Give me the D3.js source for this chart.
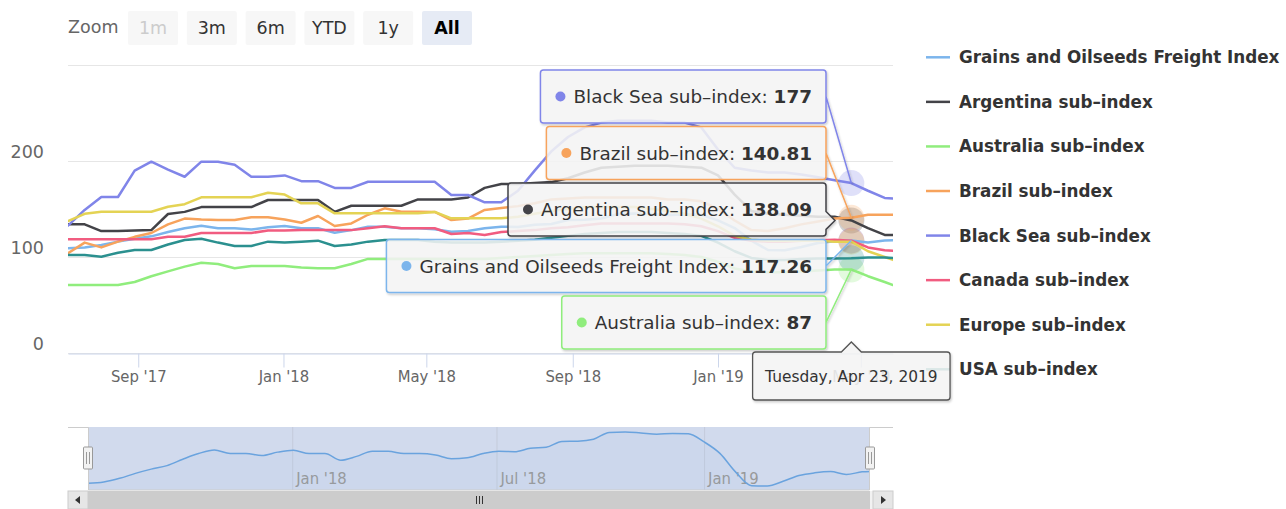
<!DOCTYPE html>
<html>
<head>
<meta charset="utf-8">
<script src="https://cdn.jsdelivr.net/npm/d3@7"></script>
<style>
  body { margin: 0; background: #fff; }
  svg { display: block; font-family: "DejaVu Sans", sans-serif; }
  .cond { font-family: "DejaVu Sans Condensed", "Liberation Sans Narrow", "DejaVu Sans", sans-serif; font-stretch: condensed; }
</style>
</head>
<body>
<svg id="chart" width="1286" height="509"></svg>
<script>
// biweekly observation dates (Tuesdays), last one is the final weekly point
var dates = ["2017-07-04","2017-07-18","2017-08-01","2017-08-15","2017-08-29","2017-09-12","2017-09-26","2017-10-10",
  "2017-10-24","2017-11-07","2017-11-21","2017-12-05","2017-12-19","2018-01-02","2018-01-16","2018-01-30",
  "2018-02-13","2018-02-27","2018-03-13","2018-03-27","2018-04-10","2018-04-24","2018-05-08","2018-05-22",
  "2018-06-05","2018-06-19","2018-07-03","2018-07-17","2018-07-31","2018-08-14","2018-08-28","2018-09-11",
  "2018-09-25","2018-10-09","2018-10-23","2018-11-06","2018-11-20","2018-12-04","2018-12-18","2019-01-01",
  "2019-01-15","2019-01-29","2019-02-12","2019-02-26","2019-03-12","2019-03-26","2019-04-09","2019-04-23",
  "2019-05-07","2019-05-21","2019-05-28"];

var grains = [109,110,112.5,116,119,121.5,126,130,132.5,130,130,128.6,131,132.3,130,130,125.3,128,131.6,131.6,
  130,130,129,126.4,127,130,131.6,131.3,133.7,134.4,138.5,138.7,140.1,144.9,145.2,144.5,143.7,144.2,144,138.2,
  130.1,116.9,107.3,107.1,110.4,114.5,116.4,117.26,115.2,117.1,117.4];
var argentina = [134,134,127,127,127.5,128,144.8,147,152,152,152,152,159.4,159.4,159.4,159.4,147,153.4,153.4,153.4,
  153.4,160,160,160,162,172,176,176,177,178,182,188,193,194,195,195,195,194,193,185,
  165,148,145,144,143,142,142,138.09,130,123,123];
var australia = [70.8,70.8,70.8,70.8,74,80,85,90,94,92.7,88.2,90.6,90.6,90.6,89,88.2,88.2,92.7,98,98,
  98,98,98,98,98,98,99,100,101,102,103,104,104,104,104,104,103,102,100,95,
  88,85,84,84,85,86,87,87,80,74,70.8];
var brazil = [104,115,110,116,121,125,134,140,139,138.5,138.5,141.4,141.4,139,135.7,142.7,132.3,135,144,150.7,
  147.2,147.2,147,138.5,140,149,151,153,156,160,161,162,162,162,162,162,160,160,158,150,
  138,128,127,130,134,137,140,140.81,144,144,144];
var blackSea = [132.6,149,162.5,162.5,190,199.3,191,183.6,199.3,199.3,196,183.6,183.6,185,179,179,172,172,178.4,178.4,
  178.4,178.4,178.4,164.6,164.6,157,157,169,190,210,225,235,240,242,242,242,240,240,235,212,
  193,190,188,188,186,183,180,177,169,161.5,161];
var canada = [118.4,118.4,118.4,118.4,118.4,118.4,121,121,125,125,125,125,127.5,127.5,128,128,128,128,129.9,132,
  130,130,130,124,125,123,126,127,128,130,131,133,135,135,135,135,135,134,132,127,
  120,117,116,116,117,117.5,118,117,110,107,106.6];
var europe = [137.5,145,147.2,147.2,147.2,147.2,152.4,155,162.2,162.2,162.2,162.2,167,165,155.9,155.9,145.5,145.5,145.5,145.5,
  145.5,145.5,147,140.3,140.3,140.3,140.3,142,145,148,150,152,152,152,152,150,148,145,140,132,
  122,118,117,117,117,117,116,116,106,100,97];
var usa = [102,102,100.3,104.5,107.3,107.3,113,117.7,119,115,111.5,111.5,116,115,116,117,111.5,113,116,117.7,
  117.7,117.7,116,115,115,115,116,117,118,120,122,124,125,126,126,126,125,124,122,115,
  106,99,97,97,98,98.5,98.5,98.6,99.5,99.5,99];

var seriesNames = ["Grains and Oilseeds Freight Index","Argentina sub–index","Australia sub–index","Brazil sub–index",
  "Black Sea sub–index","Canada sub–index","Europe sub–index","USA sub–index"];
var seriesValues = [grains, argentina, australia, brazil, blackSea, canada, europe, usa];
var seriesColors = ["#7cb5ec","#434348","#90ed7d","#f7a35c","#8085e9","#f15c80","#e4d354","#2b908f"];

var yTicks = [0, 100, 200, 300];
var xTickDates = ["2017-09-01","2018-01-01","2018-05-01","2018-09-01","2019-01-01","2019-05-01"];
var navTickDates = ["2018-01-01","2018-07-01","2019-01-01"];
var zoomButtons = ["1m","3m","6m","YTD","1y","All"];
var hoverDate = "2019-04-23";
// split tooltip boxes that fit, top to bottom
var tipSeries = ["Black Sea sub–index","Brazil sub–index","Argentina sub–index","Grains and Oilseeds Freight Index","Australia sub–index"];

var parse = d3.timeParse("%Y-%m-%d");
var dateObjs = dates.map(parse);
var series = seriesNames.map(function(n, i) {
  return {name: n, color: seriesColors[i],
    points: seriesValues[i].map(function(v, j) { return {date: dateObjs[j], v: v}; })};
});

var svg = d3.select("#chart");
var plot = {left: 68, right: 893, top: 65, bottom: 353};

var x = d3.scaleTime().domain(d3.extent(dateObjs)).range([plot.left, plot.right]);
var y = d3.scaleLinear().domain([0, 300]).range([plot.bottom, plot.top]);
var xNav = d3.scaleTime().domain(x.domain()).range([88, 870]);
var yNav = d3.scaleLinear().domain(d3.extent(grains)).range([486, 432]);

var defs = svg.append("defs");
defs.append("clipPath").attr("id", "plotclip").append("rect")
  .attr("x", plot.left).attr("y", plot.top - 5).attr("width", plot.right - plot.left).attr("height", plot.bottom - plot.top + 10);
var sh = defs.append("filter").attr("id", "shadow").attr("x", "-10%").attr("y", "-20%").attr("width", "130%").attr("height", "150%");
sh.append("feDropShadow").attr("dx", 1).attr("dy", 1.5).attr("stdDeviation", 1.2)
  .attr("flood-color", "#000").attr("flood-opacity", 0.22);

// ---- zoom buttons
svg.append("text").attr("x", 68).attr("y", 33).attr("fill", "#666").style("font-size", "17.5px").text("Zoom");
var btn = svg.append("g").selectAll("g").data(zoomButtons).enter().append("g")
  .attr("transform", function(d, i) { return "translate(" + (128 + i * 58.8) + ",11)"; });
btn.append("rect").attr("width", 50).attr("height", 34).attr("rx", 2)
  .attr("fill", function(d) { return d == "All" ? "#e6ebf5" : "#f7f7f7"; });
btn.append("text").attr("x", 25).attr("y", 22.5).attr("text-anchor", "middle").style("font-size", "17.5px")
  .attr("font-weight", function(d) { return d == "All" ? "bold" : "normal"; })
  .attr("fill", function(d) { return d == "1m" ? "#cccccc" : (d == "All" ? "#000" : "#333"); })
  .text(function(d) { return d; });

// ---- grid and y labels
svg.append("g").selectAll("line").data(yTicks).enter().append("line")
  .attr("x1", plot.left).attr("x2", plot.right)
  .attr("y1", function(d) { return y(d) + 0.5; }).attr("y2", function(d) { return y(d) + 0.5; })
  .attr("stroke", "#e6e6e6");
svg.append("g").selectAll("text").data(yTicks.filter(function(d) { return d < 300; })).enter().append("text")
  .attr("x", 44).attr("y", function(d) { return y(d) - 3; })
  .attr("text-anchor", "end").attr("fill", "#666").style("font-size", "17.5px")
  .text(function(d) { return d; });

// ---- x axis
var xAxis = d3.axisBottom(x).tickValues(xTickDates.map(parse)).tickFormat(d3.timeFormat("%b '%y"))
  .tickSize(14).tickSizeOuter(0).tickPadding(3);
var gx = svg.append("g").attr("transform", "translate(0," + (plot.bottom + 0.5) + ")").call(xAxis);
gx.select(".domain").attr("stroke", "#ccd6eb");
gx.selectAll(".tick line").attr("stroke", "#ccd6eb");
gx.selectAll(".tick text").attr("class", "cond").attr("fill", "#666").style("font-size", "16.5px");

// ---- lines
var line = d3.line().x(function(d) { return x(d.date); }).y(function(d) { return y(d.v); });
var hoverIdx = dates.indexOf(hoverDate);
var hoverX = x(parse(hoverDate));

var lg = svg.append("g").attr("clip-path", "url(#plotclip)");
lg.selectAll("circle.halo").data(series).enter().append("circle").attr("class", "halo")
  .attr("cx", hoverX).attr("cy", function(d) { return y(d.points[hoverIdx].v); })
  .attr("r", 13).attr("fill", function(d) { return d.color; }).attr("opacity", 0.25);
lg.selectAll("path.series").data(series).enter().append("path").attr("class", "series")
  .attr("d", function(d) { return line(d.points); })
  .attr("fill", "none").attr("stroke", function(d) { return d.color; })
  .attr("stroke-width", 2.5).attr("stroke-linejoin", "round").attr("stroke-linecap", "round");

// ---- legend
var leg = svg.append("g").selectAll("g").data(series).enter().append("g")
  .attr("transform", function(d, i) { return "translate(926," + (57.3 + i * 44.57) + ")"; });
leg.append("line").attr("x1", 0).attr("x2", 24).attr("stroke", function(d) { return d.color; }).attr("stroke-width", 2.5);
leg.append("text").attr("x", 33).attr("y", 6).attr("fill", "#333").attr("font-weight", "bold")
  .style("font-size", "16.8px").text(function(d) { return d.name; });

// ---- navigator
var nav = svg.append("g");
nav.append("rect").attr("x", 88).attr("y", 427).attr("width", 870 - 88).attr("height", 63)
  .attr("fill", "rgba(102,133,194,0.3)");
nav.selectAll("line.ng").data(navTickDates.map(parse)).enter().append("line").attr("class", "ng")
  .attr("x1", function(d) { return xNav(d) + 0.5; }).attr("x2", function(d) { return xNav(d) + 0.5; })
  .attr("y1", 427).attr("y2", 490).attr("stroke", "#c4cbdb");
nav.selectAll("text.nl").data(navTickDates.map(parse)).enter().append("text").attr("class", "cond")
  .attr("x", function(d) { return xNav(d) + 4; }).attr("y", 484)
  .attr("fill", "#999").style("font-size", "16.5px").text(d3.timeFormat("%b '%y"));
var navArea = d3.area().curve(d3.curveMonotoneX).x(function(d) { return xNav(d.date); })
  .y0(490).y1(function(d) { return yNav(d.v); });
var navLine = d3.line().curve(d3.curveMonotoneX).x(function(d) { return xNav(d.date); }).y(function(d) { return yNav(d.v); });
nav.append("path").attr("d", navArea(series[0].points)).attr("fill", "#7cb5ec").attr("opacity", 0.05);
nav.append("path").attr("d", navLine(series[0].points)).attr("fill", "none").attr("stroke", "#6aa3de").attr("stroke-width", 1.5);
nav.append("path").attr("d", "M68,427.5H88.5V490H869.5V427.5H893").attr("fill", "none").attr("stroke", "#cccccc");
[88, 870].forEach(function(hx) {
  var h = nav.append("g").attr("transform", "translate(" + hx + ",447)");
  h.append("rect").attr("x", -4.5).attr("y", 0).attr("width", 9).attr("height", 22).attr("rx", 1)
    .attr("fill", "#f2f2f2").attr("stroke", "#999");
  h.append("path").attr("d", "M-1.5,5V17M1.5,5V17").attr("stroke", "#999");
});
// scrollbar
var sb = svg.append("g");
sb.append("rect").attr("x", 68).attr("y", 491).attr("width", 825).attr("height", 18).attr("fill", "#f2f2f2");
sb.append("rect").attr("x", 88).attr("y", 491).attr("width", 782).attr("height", 18).attr("fill", "#cccccc");
sb.append("rect").attr("x", 68).attr("y", 491).attr("width", 20).attr("height", 18).attr("fill", "#e6e6e6").attr("stroke", "#cccccc");
sb.append("rect").attr("x", 873).attr("y", 491).attr("width", 20).attr("height", 18).attr("fill", "#e6e6e6").attr("stroke", "#cccccc");
sb.append("path").attr("d", "M80,496L75,500L80,504Z").attr("fill", "#333");
sb.append("path").attr("d", "M881,496L886,500L881,504Z").attr("fill", "#333");
sb.append("path").attr("d", "M476.5,496V504M479.5,496V504M482.5,496V504").attr("stroke", "#333");

// ---- split tooltip
function callout(bx, by, w, h, ax, ay) {
  var r = 3, half = 9, arrow = 9;
  var p = "M" + (bx + r) + "," + by + "H" + (bx + w - r) + "Q" + (bx + w) + "," + by + " " + (bx + w) + "," + (by + r);
  if (ay > by + r + half && ay < by + h - r - half) {
    p += "V" + (ay - half) + "L" + (bx + w + arrow) + "," + ay + "L" + (bx + w) + "," + (ay + half);
  } else {
    p += "V" + (by + h / 2) + "L" + ax + "," + ay + "L" + (bx + w) + "," + (by + h / 2);
  }
  p += "V" + (by + h - r) + "Q" + (bx + w) + "," + (by + h) + " " + (bx + w - r) + "," + (by + h) +
    "H" + (bx + r) + "Q" + bx + "," + (by + h) + " " + bx + "," + (by + h - r) +
    "V" + (by + r) + "Q" + bx + "," + by + " " + (bx + r) + "," + by + "Z";
  return p;
}

var tipRight = 826, tipTop = 70, tipH = 53, tipGap = 3.5;
var tips = svg.append("g");
tipSeries.forEach(function(name, i) {
  var s = series.filter(function(d) { return d.name == name; })[0];
  var val = s.points[hoverIdx].v;
  var by = tipTop + i * (tipH + tipGap);
  var g = tips.append("g");
  var path = g.append("path");
  var t = g.append("text").attr("y", by + tipH / 2 + 6.5).attr("fill", "#333").style("font-size", "18.4px");
  t.append("tspan").text(name + ": ");
  t.append("tspan").attr("font-weight", "bold").text(val);
  var w = 33 + t.node().getComputedTextLength() + 14;
  var bx = tipRight - w;
  t.attr("x", bx + 33);
  path.attr("d", callout(bx, by, w, tipH, hoverX, y(val)))
    .attr("fill", "rgba(247,247,247,0.85)").attr("stroke", s.color).attr("stroke-width", 1.5)
    .attr("filter", "url(#shadow)");
  g.append("circle").attr("cx", bx + 20).attr("cy", by + tipH / 2).attr("r", 5).attr("fill", s.color);
});

// date header
var hg = tips.append("g");
var hp = hg.append("path");
var ht = hg.append("text").attr("x", hoverX).attr("y", 382).attr("text-anchor", "middle")
  .attr("fill", "#333").style("font-size", "15.4px").text(d3.timeFormat("%A, %b %d, %Y")(parse(hoverDate)));
var hw = ht.node().getComputedTextLength() + 25;
var hx0 = hoverX - hw / 2, hy0 = 352, hh = 48;
hp.attr("d", "M" + (hx0 + 3) + "," + hy0 + "H" + (hoverX - 10) + "L" + hoverX + "," + (hy0 - 10) + "L" + (hoverX + 10) + "," + hy0 +
    "H" + (hx0 + hw - 3) + "Q" + (hx0 + hw) + "," + hy0 + " " + (hx0 + hw) + "," + (hy0 + 3) +
    "V" + (hy0 + hh - 3) + "Q" + (hx0 + hw) + "," + (hy0 + hh) + " " + (hx0 + hw - 3) + "," + (hy0 + hh) +
    "H" + (hx0 + 3) + "Q" + hx0 + "," + (hy0 + hh) + " " + hx0 + "," + (hy0 + hh - 3) +
    "V" + (hy0 + 3) + "Q" + hx0 + "," + hy0 + " " + (hx0 + 3) + "," + hy0 + "Z")
  .attr("fill", "rgba(247,247,247,0.85)").attr("stroke", "#555").attr("stroke-width", 1.3).attr("filter", "url(#shadow)");
</script>
</body>
</html>
